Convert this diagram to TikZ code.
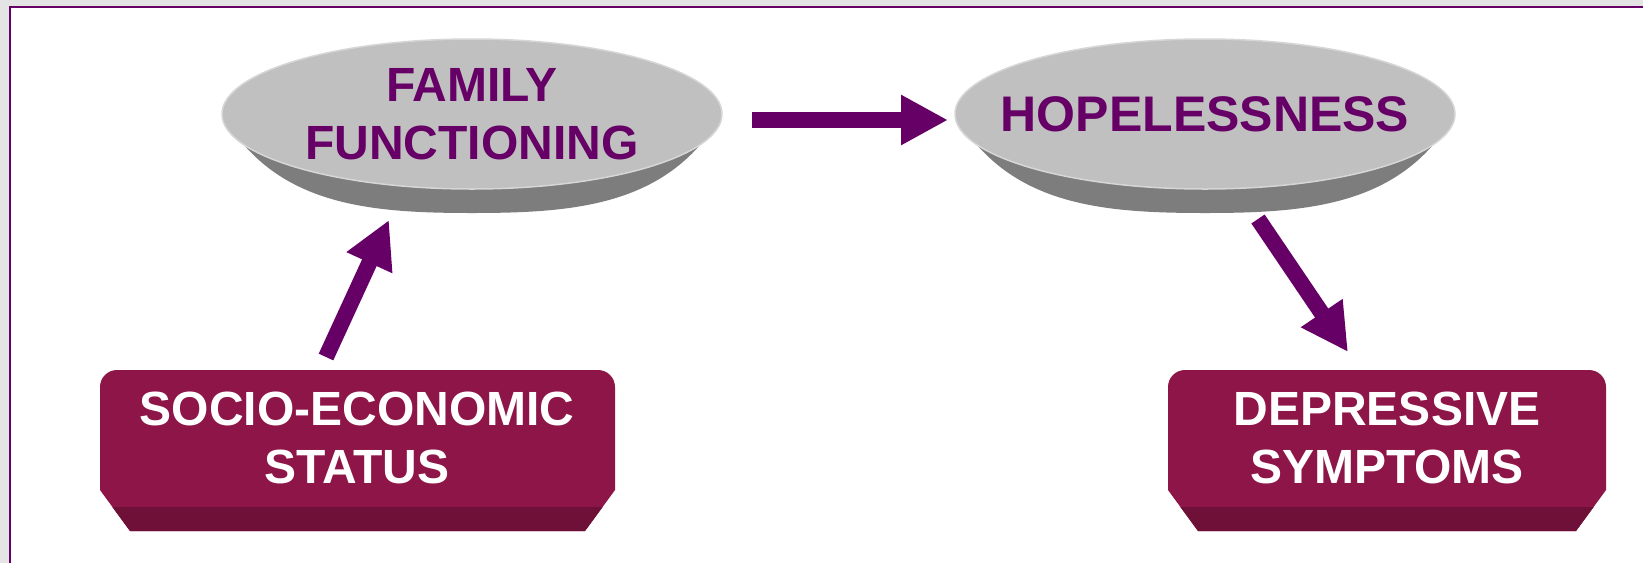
\documentclass[tikz,border=0pt]{standalone}
\usepackage{fontspec}
\setmainfont{Liberation Sans}
\usetikzlibrary{arrows.meta,shapes.geometric}
\definecolor{plum}{HTML}{660066}
\definecolor{boxred}{HTML}{8E1547}
\definecolor{boxdark}{HTML}{6E1038}
\definecolor{discface}{HTML}{C0C0C0}
\definecolor{discrim}{HTML}{D6D6D6}
\definecolor{discside}{HTML}{7D7D7D}
\definecolor{outergray}{HTML}{E4E4E4}
\begin{document}
\begin{tikzpicture}[
        x=1pt, y=-1pt,
        disc/.style={ellipse, fill=discface, draw=discrim, line width=1.5pt, minimum width=500pt, minimum height=150pt, inner sep=0pt},
        disc side/.style={fill=discside},
        disc text/.style={text=plum, align=center, font=\fontsize{48}{58}\selectfont\bfseries},
        box face/.style={fill=boxred},
        box band/.style={fill=boxdark},
        box text/.style={text=white, align=center, font=\fontsize{48}{58}\selectfont\bfseries},
        flow/.style={draw=plum, line width=16pt, -{Triangle[length=47pt, width=47pt]}}
    ]
	\useasboundingbox (0,0) rectangle (1643,563);
	\fill[outergray] (0,0) rectangle (1643,563);
	\fill[white] (10,7) rectangle (1643,563);
	\draw[plum, line width=2.5pt] (10,563) -- (10,7) -- (1643,7);
	\fill[disc side] (222,114) to[out=-60, in=180] (472,213) to[out=0, in=-120] (722,114) -- cycle;
	\fill[disc side] (955,114) to[out=-60, in=180] (1205,213) to[out=0, in=-120] (1455,114) -- cycle;
	\node[disc] (famfunc) at (472,114) {};
	\node[disc] (hope) at (1205,114) {};
	\fill[box face] (100,490) -- (100,387) arc[start angle=180, end angle=270, radius=17] -- (598,370) arc[start angle=270, end angle=360, radius=17] -- (615,490) -- (585,531) -- (130,531) -- cycle;
	\fill[box band] (112.4,507) -- (602.6,507) -- (585,531) -- (130,531) -- cycle;
	\fill[box face] (1168,490) -- (1168,387) arc[start angle=180, end angle=270, radius=17] -- (1589,370) arc[start angle=270, end angle=360, radius=17] -- (1606,490) -- (1576,531) -- (1198,531) -- cycle;
	\fill[box band] (1180.4,507) -- (1593.6,507) -- (1576,531) -- (1198,531) -- cycle;
	\node[disc text] (famfunc_label) at (famfunc) {FAMILY\\FUNCTIONING};
	\node[disc text, font=\fontsize{50}{58}\selectfont\bfseries] (hope_label) at (hope) {HOPELESSNESS};
	\node[box text] (ses) at (357,438) {SOCIO-ECONOMIC\\STATUS};
	\node[box text] (dep) at (1387,438) {DEPRESSIVE\\SYMPTOMS};
	\coordinate (ses_tail) at (326,357);
	\coordinate (famfunc_head) at (389,220);
	\coordinate (famfunc_tail) at (752,120);
	\coordinate (hope_head) at (948,120);
	\coordinate (hope_tail) at (1258,219);
	\coordinate (dep_head) at (1348,352);
	\draw[flow] (ses_tail) -- (famfunc_head);
	\draw[flow] (famfunc_tail) -- (hope_head);
	\draw[flow] (hope_tail) -- (dep_head);
    \end{tikzpicture}
\end{document}
